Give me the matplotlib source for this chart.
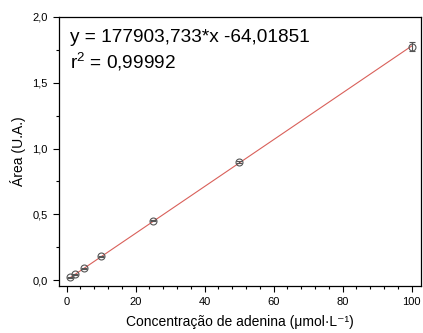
import numpy as np
import matplotlib
matplotlib.use("Agg")
import matplotlib.pyplot as plt
from matplotlib.ticker import MultipleLocator, FuncFormatter

plt.rcParams['font.family'] = ['Liberation Sans', 'DejaVu Sans']
plt.rcParams['mathtext.fontset'] = 'custom'
plt.rcParams['mathtext.rm'] = 'Liberation Sans'
plt.rcParams['mathtext.it'] = 'Liberation Sans:italic'

# concentracao (umol/L) vs area (x 1e7)
conc = [1, 2.5, 5, 10, 25, 50, 100]
area = [0.020, 0.043, 0.089, 0.180, 0.452, 0.900, 1.775]
area_err = [0.004, 0.004, 0.004, 0.004, 0.004, 0.006, 0.032]

# linear fit as reported on the chart
slope = 177903.733
intercept = -64.01851
scale = 1e7

fig = plt.figure(figsize=(4.23, 3.33), dpi=100)
ax = fig.add_axes([0.1395, 0.141, 0.8555, 0.808])

x_fit = np.array([conc[0], conc[-1]])
y_fit = (slope * x_fit + intercept) / scale
ax.plot(x_fit, y_fit, color='#d9605a', linewidth=0.8, zorder=2)

ax.errorbar(conc, area, yerr=area_err, fmt='o', markersize=5,
            markerfacecolor='none', markeredgecolor='#555555', markeredgewidth=0.8,
            ecolor='#555555', elinewidth=0.8, capsize=2.5, capthick=0.8, zorder=3)

ax.set_xlim(-2.2, 102.7)
ax.set_ylim(-0.045, 2.0)
ax.xaxis.set_major_locator(MultipleLocator(20))
ax.xaxis.set_minor_locator(MultipleLocator(4))
ax.yaxis.set_major_locator(MultipleLocator(0.5))
ax.yaxis.set_minor_locator(MultipleLocator(0.25))
ax.yaxis.set_major_formatter(FuncFormatter(lambda v, p: f'{v:.1f}'.replace('.', ',')))
ax.xaxis.set_major_formatter(FuncFormatter(lambda v, p: f'{v:.0f}'))

ax.tick_params(which='both', direction='out', top=False, right=False, labelsize=8, width=0.8)
ax.tick_params(which='major', length=4.5)
ax.tick_params(which='minor', length=2.5)
for s in ax.spines.values():
    s.set_linewidth(0.9)

ax.set_xlabel('Concentração de adenina (μmol·L⁻¹)', fontsize=10, labelpad=6)
ax.set_ylabel('Área (U.A.)', fontsize=10, labelpad=5)

ax.text(0.03, 0.955, 'y = 177903,733*x -64,01851\nr$^2$ = 0,99992',
        transform=ax.transAxes, fontsize=13.7, va='top', ha='left', linespacing=1.25)

fig.savefig('out.png', dpi=100)
